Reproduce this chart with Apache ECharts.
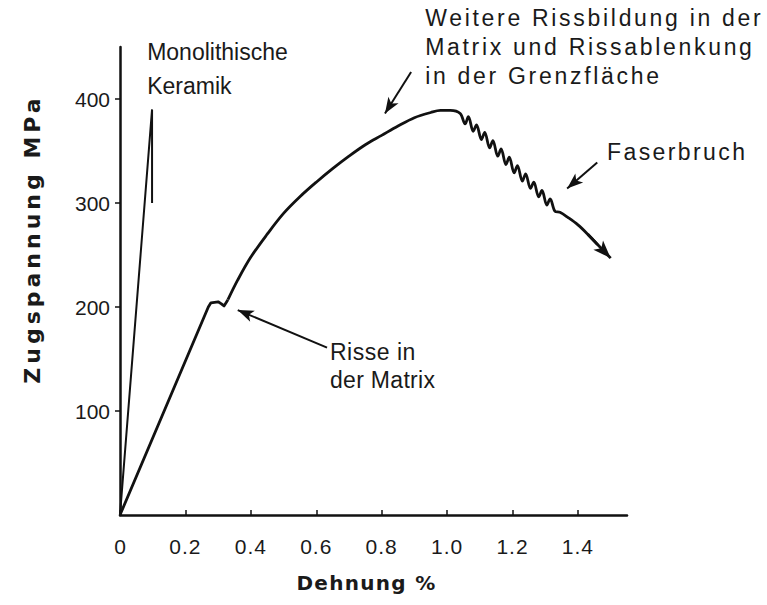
<!DOCTYPE html>
<html><head><meta charset="utf-8">
<script src="https://cdn.jsdelivr.net/npm/echarts@6/dist/echarts.min.js"></script>
<style>html,body{margin:0;padding:0;background:#fff}#c{width:767px;height:605px}</style>
</head><body><div id="c"></div>
<script>
// ---- data ----
const xTicks = [0, 0.2, 0.4, 0.6, 0.8, 1.0, 1.2, 1.4];
const yTicks = [100, 200, 300, 400];
const xName = 'Dehnung %';
const yName = 'Zugspannung MPa';
// monolithic ceramic
const monolithic = [[0, 0], [0.098, 390], [0.098, 300]];
// composite: linear elastic part with matrix-crack plateau
const compositeLinear = [[0, 0], [0.27, 200], [0.278, 204], [0.30, 205], [0.31, 203], [0.318, 201], [0.33, 207]];
// composite: rising curve
const compositeCurve = [[0.33, 207], [0.36, 226], [0.40, 248], [0.45, 270], [0.50, 290], [0.55, 306], [0.60, 320],
  [0.65, 333], [0.70, 345], [0.75, 356], [0.80, 365], [0.85, 374], [0.90, 382], [0.95, 387], [0.98, 389], [1.01, 389], [1.04, 386]];
// composite: fibre breakage (wavy)
const compositeWavy = [[1.055, 376], [1.065, 383], [1.08, 369], [1.09, 375], [1.105, 361], [1.115, 368], [1.13, 353],
  [1.14, 360], [1.155, 345], [1.165, 352], [1.18, 337], [1.19, 344], [1.205, 329], [1.215, 336], [1.23, 321],
  [1.24, 328], [1.255, 314], [1.265, 320], [1.28, 306], [1.29, 312], [1.305, 298], [1.315, 304], [1.33, 292], [1.345, 291]];
// composite: tail
const compositeTail = [[1.37, 286], [1.40, 279], [1.43, 270], [1.46, 260]];
const endArrow = [[1.43, 270], [1.5, 247]];
// annotation arrows [from, to]
const arrowMatrix = [[0.633, 161], [0.36, 197]];
const arrowGrenz = [[0.89, 426], [0.81, 386]];
const arrowFaser = [[1.459, 339], [1.367, 314]];
// annotation texts
const noteTexts = [
  'Monolithische\nKeramik',
  'Weitere Rissbildung in der\nMatrix und Rissablenkung\nin der Grenzfläche',
  'Risse in\nder Matrix',
  'Faserbruch'
];

// ---- layout / style ----
const noteAnchors = [[0.083, 429], [0.933, 450], [0.642, 143], [1.489, 349]]; // data coords of left-middle of each block
const noteLineHeights = [34, 29, 28, 28];
const spacing = {
  'Weitere Rissbildung in der': 2.7, 'Matrix und Rissablenkung': 2.7, 'in der Grenzfläche': 2.7,
  'Faserbruch': 2.4, 'Risse in': 0.5, 'der Matrix': 0.3,
  'Dehnung %': 1.3, 'Zugspannung MPa': 4,
  '0.2': 1, '0.4': 1, '0.6': 1, '0.8': 1, '1.0': 1, '1.2': 1, '1.4': 1
};
const ink = '#111';
const txt = '#1a1a1a';
const chart = echarts.init(document.getElementById('c'), null, { renderer: 'svg' });

function arrowLine(pair) {
  return [{ coord: pair[0] }, { coord: pair[1] }];
}

const option = {
  animation: false,
  backgroundColor: '#fff',
  grid: { left: 120, right: 140, top: 47, bottom: 90, containLabel: false },
  xAxis: {
    type: 'value', min: 0, max: 1.55,
    name: xName, nameLocation: 'middle', nameGap: 58,
    nameTextStyle: { fontFamily: 'DejaVu Sans', fontWeight: 'bold', fontSize: 20, color: txt, padding: [0, 14, 0, 0] },
    axisLine: { show: true, onZero: false, lineStyle: { color: ink, width: 2.5 } },
    axisTick: { show: true, inside: true, length: 5, customValues: xTicks, lineStyle: { color: ink, width: 1.5 } },
    axisLabel: {
      customValues: xTicks, margin: 21, fontSize: 21, fontFamily: 'Liberation Sans', color: txt,
      formatter: v => (v === 0 ? '0' : v.toFixed(1))
    },
    splitLine: { show: false }
  },
  yAxis: {
    type: 'value', min: 0, max: 450,
    name: yName, nameLocation: 'middle', nameGap: 77, nameRotate: 90,
    nameTextStyle: { fontFamily: 'DejaVu Sans', fontWeight: 'bold', fontSize: 22, color: txt, padding: [0, 0, 0, 84] },
    axisLine: { show: true, onZero: false, lineStyle: { color: ink, width: 2.5 } },
    axisTick: { show: true, length: 5, customValues: yTicks, lineStyle: { color: ink, width: 1.5 } },
    axisLabel: { customValues: yTicks, margin: 10, fontSize: 21, fontFamily: 'Liberation Sans', color: txt },
    splitLine: { show: false }
  },
  series: [
    {
      name: 'Monolithische Keramik', type: 'line', data: monolithic, symbol: 'none',
      lineStyle: { color: ink, width: 2 },
      markLine: {
        silent: true, symbol: ['none', 'arrow'], symbolSize: [9, 16], label: { show: false },
        lineStyle: { color: ink, width: 2, type: 'solid' },
        data: [arrowLine(arrowMatrix), arrowLine(arrowGrenz), arrowLine(arrowFaser)]
      }
    },
    {
      name: 'Verbund linear', type: 'line', data: compositeLinear, symbol: 'none',
      lineStyle: { color: ink, width: 2.8, join: 'round' }
    },
    {
      name: 'Verbund', type: 'line', data: compositeCurve.concat(compositeWavy, compositeTail), symbol: 'none',
      smooth: 0.35, lineStyle: { color: ink, width: 2.8, join: 'round' },
      markLine: {
        silent: true, symbol: ['none', 'arrow'], symbolSize: [10, 18], label: { show: false },
        lineStyle: { color: ink, width: 2.8, type: 'solid' },
        data: [arrowLine(endArrow)]
      }
    }
  ]
};
chart.setOption(option);

const graphics = noteTexts.map((t, i) => {
  const p = chart.convertToPixel({ gridIndex: 0 }, noteAnchors[i]);
  return {
    type: 'text', x: p[0], y: p[1], silent: true,
    style: {
      text: t, fontSize: 23, fontFamily: 'Liberation Sans', fill: txt,
      align: 'left', verticalAlign: 'middle', lineHeight: noteLineHeights[i]
    }
  };
});
chart.setOption({ graphic: graphics });

function applySpacing() {
  document.querySelectorAll('#c svg text').forEach(el => {
    const s = spacing[el.textContent.trim()];
    if (s) el.setAttribute('letter-spacing', s + 'px');
  });
}
chart.getZr().flush();
applySpacing();
chart.on('finished', applySpacing);
</script>
</body></html>
